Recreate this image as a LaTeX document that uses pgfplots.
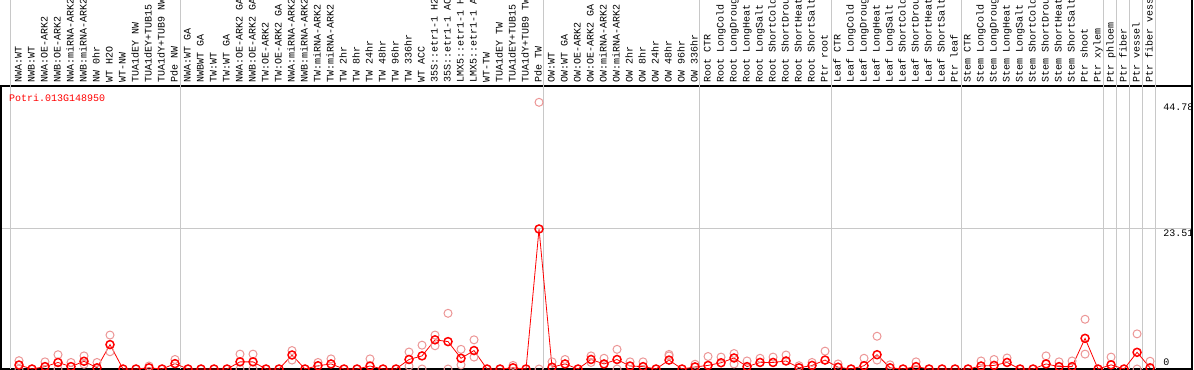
\documentclass[border=0pt]{standalone}
\usepackage{pgfplots}
\pgfplotsset{compat=1.18}
\usepackage{pgfplotstable}
\usepackage{fontspec}
\setmainfont{Liberation Mono}
\definecolor{meanred}{RGB}{255,0,0}
\definecolor{palered}{RGB}{236,150,150}
\definecolor{sepgray}{RGB}{200,200,200}

\pgfplotstableread{
x y
1 0.67
2 0
3 0.4
4 1.1
5 0.4
6 1.3
7 0.2
8 4.1
9 0
10 0
11 0.2
12 0
13 0.9
14 0
15 0
16 0
17 0
18 1.2
19 1.2
20 0
21 0
22 2.35
23 0
24 0.55
25 0.85
26 0
27 0
28 0.5
29 0
30 0
31 1.6
32 2.2
33 4.9
34 4.6
35 1.8
36 3.1
37 0
38 0
39 0.2
40 0
41 23.51
42 0.3
43 0.85
44 0
45 1.6
46 0.85
47 1.6
48 0.5
49 0.4
50 0
51 1.5
52 0
53 0.35
54 0.6
55 1.05
56 1.85
57 0.4
58 1.1
59 1.1
60 1.35
61 0.2
62 0.6
63 1.5
64 0.3
65 0
66 0.55
67 2.4
68 0.2
69 0
70 0.4
71 0
72 0
73 0
74 0
75 0.5
76 0.6
77 1.1
78 0
79 0
80 0.85
81 0.4
82 0.4
83 5.15
84 0
85 0.7
86 0
87 2.8
88 0.2
}\means

\pgfplotstableread{
x y
1 1.4
1 0
3 1.2
4 2.4
4 0
5 1.1
6 2.2
6 0.8
7 1.1
8 5.7
8 2.9
11 0.5
13 1.6
18 2.5
18 0
19 2.5
19 0
22 3.1
22 1.5
24 1.1
25 1.7
28 1.7
31 2.85
31 0.5
32 4.0
32 0
33 5.7
33 3.9
34 9.35
34 0
35 3.3
35 0.7
36 4.9
36 2.0
39 0.6
41 44.78
41 0
42 1.2
43 1.6
45 2.2
45 1.1
46 1.8
47 3.3
47 0
48 1.2
49 1.2
51 2.45
51 2.2
53 0.8
54 2.1
55 2.0
56 2.6
56 0.85
57 1.35
58 1.8
59 2.0
60 2.35
61 0.55
62 1.1
63 3.0
64 0.85
66 1.8
67 5.5
67 1.5
68 0.7
70 1.2
75 1.35
76 1.6
77 1.85
80 2.2
81 1.2
82 1.35
83 8.35
83 2.5
85 2.0
87 5.9
87 0
88 1.3
}\reps

\begin{document}
\begin{tikzpicture}
\begin{axis}[
  at={(1bp,1bp)}, anchor=south west,
  scale only axis, width=1191bp, height=283bp,
  xmin=-0.3846, xmax=91.23, ymin=0, ymax=47.52,
  clip=false,
  axis line style={black, line width=1.5bp},
  xtick={1,...,88},
  xticklabels={{NWA:WT},{NWB:WT},{NWA:OE-ARK2},{NWB:OE-ARK2},{NWA:miRNA-ARK2},{NWB:miRNA-ARK2},{NW 0hr},{WT H2O},{WT-NW},{TUA1dEY NW},{TUA1dEY+TUB15 NW},{TUA1dY+TUB9 NW},{Pde NW},
  {NWA:WT GA},{NWBWT GA},{TW:WT},{TW:WT GA},{NWA:OE-ARK2 GA},{NWB:OE-ARK2 GA},{TW:OE-ARK2},{TW:OE-ARK2 GA},{NWA:miRNA-ARK2 GA},{NWB:miRNA-ARK2 GA},{TW:miRNA-ARK2},{TW:miRNA-ARK2 GA},{TW 2hr},{TW 8hr},{TW 24hr},{TW 48hr},{TW 96hr},{TW 336hr},{WT ACC},{35S::etr1-1 H2O},{35S::etr1-1 ACC},{LMX5::etr1-1 H2O},{LMX5::etr1-1 ACC},{WT-TW},{TUA1dEY TW},{TUA1dEY+TUB15 TW},{TUA1dY+TUB9 TW},{Pde TW},
  {OW:WT},{OW:WT GA},{OW:OE-ARK2},{OW:OE-ARK2 GA},{OW:miRNA-ARK2},{OW:miRNA-ARK2 GA},{OW 2hr},{OW 8hr},{OW 24hr},{OW 48hr},{OW 96hr},{OW 336hr},
  {Root CTR},{Root LongCold},{Root LongDrought},{Root LongHeat},{Root LongSalt},{Root ShortCold},{Root ShortDrought},{Root ShortHeat},{Root ShortSalt},{Ptr root},
  {Leaf CTR},{Leaf LongCold},{Leaf LongDrought},{Leaf LongHeat},{Leaf LongSalt},{Leaf ShortCold},{Leaf ShortDrought},{Leaf ShortHeat},{Leaf ShortSalt},{Ptr leaf},
  {Stem CTR},{Stem LongCold},{Stem LongDrought},{Stem LongHeat},{Stem LongSalt},{Stem ShortCold},{Stem ShortDrought},{Stem ShortHeat},{Stem ShortSalt},{Ptr shoot},
  {Ptr xylem},{Ptr phloem},{Ptr fiber},{Ptr vessel},{Ptr fiber vessel}},
  xticklabel pos=upper,
  xticklabel style={rotate=90, anchor=mid west, inner xsep=3bp, inner ysep=0pt, font=\fontsize{10bp}{10bp}\selectfont},
  major tick length=0pt,
  ytick={23.51}, yticklabels={},
  ymajorgrids, grid style={sepgray, line width=1bp},
]
\pgfplotsinvokeforeach{0.31,13.46,41.38,53.38,63.46,73.46,84.38,85.38,86.38,87.38,88.38}{
  \draw[sepgray, line width=1bp] (axis cs:#1,0) -- (axis cs:#1,61.96);
}
\draw[black, line width=1.5bp] (axis cs:91.23,47.52) -- (axis cs:91.23,61.96);
\addplot[only marks, mark=o, mark size=4bp, palered, mark options={line width=1bp}] table {\reps};
\addplot[meanred, line width=0.8bp, mark=o, mark size=4bp, mark options={line width=1.5bp}] table {\means};
\node[anchor=west, inner sep=0pt, text=meanred, font=\fontsize{10bp}{10bp}\selectfont] at (axis cs:0.23,45.5) {Potri.013G148950};
\node[anchor=north west, inner sep=0pt, font=\fontsize{10bp}{10bp}\selectfont, yshift=-1bp] at (axis cs:89.0,44.78) {44.78};
\node[anchor=north west, inner sep=0pt, font=\fontsize{10bp}{10bp}\selectfont, yshift=-1bp] at (axis cs:89.0,23.51) {23.51};
\node[anchor=south west, inner sep=0pt, font=\fontsize{10bp}{10bp}\selectfont, yshift=3bp] at (axis cs:89.0,0) {0};
\end{axis}
\pgfresetboundingbox
\useasboundingbox (0,0) rectangle (1194bp,370bp);
\end{tikzpicture}
\end{document}
